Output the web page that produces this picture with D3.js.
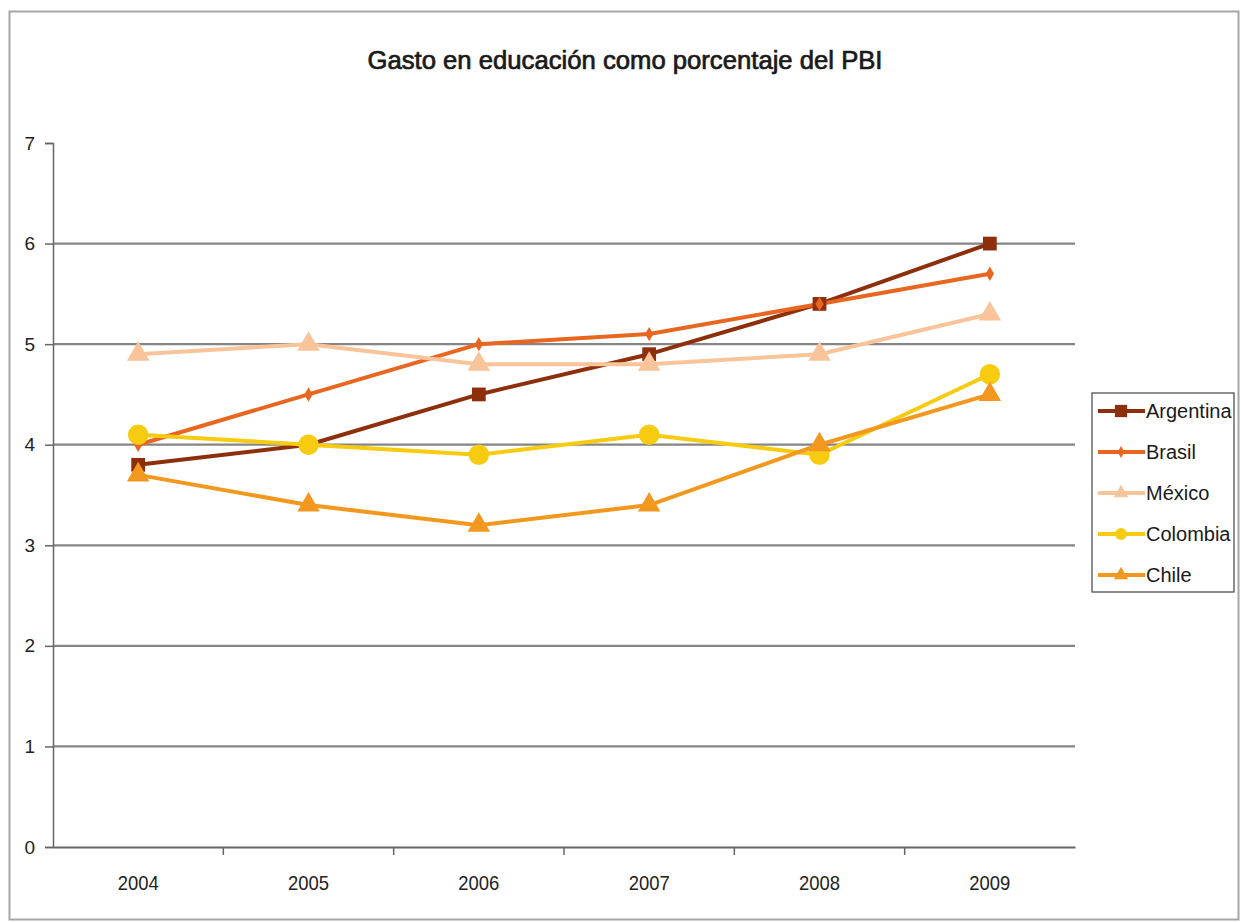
<!DOCTYPE html>
<html><head><meta charset="utf-8">
<script src="https://cdn.jsdelivr.net/npm/d3@7"></script>
<style>body{margin:0;background:#fff}svg{display:block}</style>
</head><body>
<svg id="c" width="1241" height="923"></svg>
<script>
const years = ["2004","2005","2006","2007","2008","2009"];
const argentina = [3.8, 4.0, 4.5, 4.9, 5.4, 6.0];
const brasil    = [4.0, 4.5, 5.0, 5.1, 5.4, 5.7];
const mexico    = [4.9, 5.0, 4.8, 4.8, 4.9, 5.3];
const colombia  = [4.1, 4.0, 3.9, 4.1, 3.9, 4.7];
const chile     = [3.7, 3.4, 3.2, 3.4, 4.0, 4.5];
const yTicks = [0,1,2,3,4,5,6,7];
const seriesNames = ["Argentina","Brasil","México","Colombia","Chile"];
const title = "Gasto en educación como porcentaje del PBI";

const series = [
  {name:"Argentina", values:argentina, color:"#8E2F0C", marker:"square"},
  {name:"Brasil",    values:brasil,    color:"#E8661F", marker:"diamond"},
  {name:"México",    values:mexico,    color:"#F9C49A", marker:"triangle"},
  {name:"Colombia",  values:colombia,  color:"#F7CB10", marker:"circle"},
  {name:"Chile",     values:chile,     color:"#F2981E", marker:"triangle"}
];

const svg = d3.select("#c");
const font = "'Liberation Sans', Arial, sans-serif";

svg.append("rect").attr("x",9.5).attr("y",11.5).attr("width",1229).attr("height",908)
  .attr("fill","#fff").attr("stroke","#a6a6a6").attr("stroke-width",2);

const pL=53, pR=1075, pT=143, pB=847;
const x = d3.scaleBand().domain(years).range([pL,pR]).padding(0);
const y = d3.scaleLinear().domain([0,7]).range([pB,pT]);

svg.append("g").selectAll("line").data(yTicks.filter(d=>d>0 && d<7)).join("line")
  .attr("x1",pL).attr("x2",pR).attr("y1",d=>y(d)).attr("y2",d=>y(d))
  .attr("stroke","#858585").attr("stroke-width",2.2);

const yAxis = d3.axisLeft(y).tickValues(yTicks).tickSize(8).tickPadding(10).tickFormat(d3.format("d"));
const gy = svg.append("g").attr("transform",`translate(${pL},0)`).call(yAxis);
gy.select(".domain").attr("stroke","#666").attr("stroke-width",1.5);
gy.selectAll(".tick line").attr("stroke","#666").attr("stroke-width",1.5);
gy.selectAll("text").attr("font-family",font).attr("font-size",19).attr("fill","#222");

const xAxis = d3.axisBottom(x).tickSize(0).tickPadding(28);
const gx = svg.append("g").attr("transform",`translate(0,${pB})`).call(xAxis);
gx.select(".domain").attr("stroke","#666").attr("stroke-width",2);
gx.selectAll(".tick text").attr("font-family",font).attr("font-size",21).attr("fill","#222")
  .attr("textLength",41).attr("lengthAdjust","spacingAndGlyphs");
svg.append("g").selectAll("line").data(years.slice(1)).join("line")
  .attr("x1",d=>x(d)).attr("x2",d=>x(d)).attr("y1",pB).attr("y2",pB+8)
  .attr("stroke","#666").attr("stroke-width",1.5);

svg.append("text").attr("x",625).attr("y",69).attr("text-anchor","middle")
  .attr("font-family",font).attr("font-size",25).attr("fill","#1a1a1a")
  .attr("stroke","#1a1a1a").attr("stroke-width",0.7)
  .attr("textLength",515).attr("lengthAdjust","spacingAndGlyphs").text(title);

const cx = d => x(d) + x.bandwidth()/2;
const line = d3.line().x((v,i)=>cx(years[i])).y(v=>y(v));

const symType = m => m==="square"?d3.symbolSquare: m==="circle"?d3.symbolCircle: m==="triangle"?d3.symbolTriangle:d3.symbolDiamond;
const plotSize = {square:190, diamond:60, triangle:220, circle:330};
const legSize = {square:150, diamond:40, triangle:90, circle:110};

series.forEach(s=>{
  svg.append("path").datum(s.values).attr("d",line).attr("fill","none")
    .attr("stroke",s.color).attr("stroke-width",4).attr("stroke-linejoin","round");
});
series.forEach(s=>{
  svg.append("g").selectAll("path").data(s.values).join("path")
    .attr("d",d3.symbol().type(symType(s.marker)).size(plotSize[s.marker])())
    .attr("transform",(v,i)=>`translate(${cx(years[i])},${y(v)})`)
    .attr("fill",s.color);
});

const lg = svg.append("g");
lg.append("rect").attr("x",1092).attr("y",393).attr("width",142).attr("height",199)
  .attr("fill","#fff").attr("stroke","#444").attr("stroke-width",1.2);
const rowY = d3.scalePoint().domain(seriesNames).range([411,575]);
series.forEach(s=>{
  const yy = rowY(s.name);
  lg.append("line").attr("x1",1098).attr("x2",1145).attr("y1",yy).attr("y2",yy)
    .attr("stroke",s.color).attr("stroke-width",4);
  lg.append("path").attr("d",d3.symbol().type(symType(s.marker)).size(legSize[s.marker])())
    .attr("transform",`translate(1121,${yy})`).attr("fill",s.color);
  lg.append("text").attr("x",1146).attr("y",yy).attr("dy","0.36em")
    .attr("font-family",font).attr("font-size",20).attr("fill","#1a1a1a").text(s.name);
});
</script>
</body></html>
